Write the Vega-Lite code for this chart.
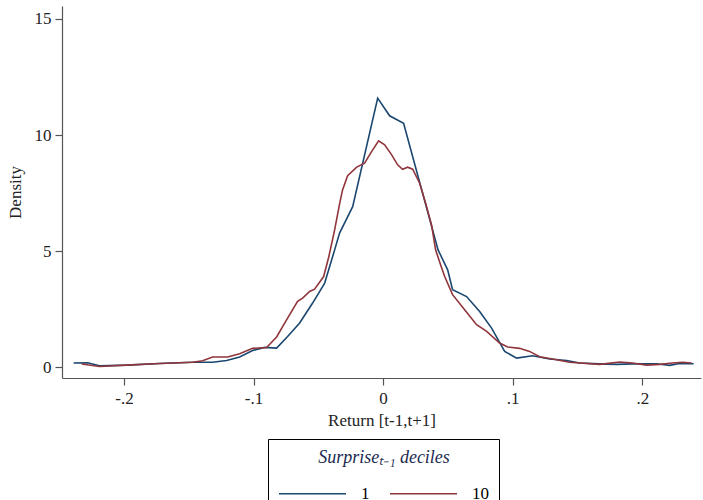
{
  "$schema": "https://vega.github.io/schema/vega-lite/v6.json",
  "width": 639,
  "height": 372,
  "autosize": {"type": "none"},
  "padding": {"left": 62, "top": 6, "right": 2, "bottom": 122},
  "background": "white",
  "config": {
    "font": "Liberation Serif",
    "view": {"stroke": null},
    "axis": {"grid": false, "domainColor": "#555", "tickColor": "#555", "labelColor": "#222", "titleColor": "#222", "labelFont": "Liberation Serif", "titleFont": "Liberation Serif", "labelFontSize": 17, "titleFontSize": 17, "titleFontWeight": "normal", "tickSize": 7, "domainWidth": 1.2, "tickWidth": 1.2}
  },
  "data": {
    "values": [
      {"x": -0.2388, "y": 0.19, "decile": "1"},
      {"x": -0.2280, "y": 0.20, "decile": "1"},
      {"x": -0.2188, "y": 0.07, "decile": "1"},
      {"x": -0.1979, "y": 0.10, "decile": "1"},
      {"x": -0.1725, "y": 0.17, "decile": "1"},
      {"x": -0.1470, "y": 0.22, "decile": "1"},
      {"x": -0.1316, "y": 0.22, "decile": "1"},
      {"x": -0.1208, "y": 0.30, "decile": "1"},
      {"x": -0.1107, "y": 0.45, "decile": "1"},
      {"x": -0.1007, "y": 0.73, "decile": "1"},
      {"x": -0.0914, "y": 0.86, "decile": "1"},
      {"x": -0.0822, "y": 0.83, "decile": "1"},
      {"x": -0.0737, "y": 1.33, "decile": "1"},
      {"x": -0.0644, "y": 1.91, "decile": "1"},
      {"x": -0.0544, "y": 2.77, "decile": "1"},
      {"x": -0.0451, "y": 3.63, "decile": "1"},
      {"x": -0.0374, "y": 5.06, "decile": "1"},
      {"x": -0.0336, "y": 5.78, "decile": "1"},
      {"x": -0.0235, "y": 6.92, "decile": "1"},
      {"x": -0.0042, "y": 11.59, "decile": "1"},
      {"x": 0.0050, "y": 10.83, "decile": "1"},
      {"x": 0.0158, "y": 10.51, "decile": "1"},
      {"x": 0.0424, "y": 5.06, "decile": "1"},
      {"x": 0.0498, "y": 4.20, "decile": "1"},
      {"x": 0.0536, "y": 3.34, "decile": "1"},
      {"x": 0.0644, "y": 3.05, "decile": "1"},
      {"x": 0.0745, "y": 2.41, "decile": "1"},
      {"x": 0.0837, "y": 1.69, "decile": "1"},
      {"x": 0.0938, "y": 0.69, "decile": "1"},
      {"x": 0.1030, "y": 0.40, "decile": "1"},
      {"x": 0.1154, "y": 0.50, "decile": "1"},
      {"x": 0.1285, "y": 0.36, "decile": "1"},
      {"x": 0.1416, "y": 0.30, "decile": "1"},
      {"x": 0.1516, "y": 0.19, "decile": "1"},
      {"x": 0.1671, "y": 0.15, "decile": "1"},
      {"x": 0.1802, "y": 0.13, "decile": "1"},
      {"x": 0.1925, "y": 0.15, "decile": "1"},
      {"x": 0.2110, "y": 0.16, "decile": "1"},
      {"x": 0.2211, "y": 0.09, "decile": "1"},
      {"x": 0.2288, "y": 0.17, "decile": "1"},
      {"x": 0.2396, "y": 0.16, "decile": "1"},
      {"x": -0.2326, "y": 0.15, "decile": "10"},
      {"x": -0.2188, "y": 0.04, "decile": "10"},
      {"x": -0.1979, "y": 0.10, "decile": "10"},
      {"x": -0.1725, "y": 0.17, "decile": "10"},
      {"x": -0.1470, "y": 0.22, "decile": "10"},
      {"x": -0.1393, "y": 0.29, "decile": "10"},
      {"x": -0.1316, "y": 0.45, "decile": "10"},
      {"x": -0.1200, "y": 0.45, "decile": "10"},
      {"x": -0.1107, "y": 0.59, "decile": "10"},
      {"x": -0.1007, "y": 0.82, "decile": "10"},
      {"x": -0.0899, "y": 0.86, "decile": "10"},
      {"x": -0.0822, "y": 1.31, "decile": "10"},
      {"x": -0.0745, "y": 2.05, "decile": "10"},
      {"x": -0.0660, "y": 2.84, "decile": "10"},
      {"x": -0.0621, "y": 2.98, "decile": "10"},
      {"x": -0.0567, "y": 3.27, "decile": "10"},
      {"x": -0.0529, "y": 3.37, "decile": "10"},
      {"x": -0.0459, "y": 3.91, "decile": "10"},
      {"x": -0.0421, "y": 4.72, "decile": "10"},
      {"x": -0.0374, "y": 5.92, "decile": "10"},
      {"x": -0.0336, "y": 7.04, "decile": "10"},
      {"x": -0.0313, "y": 7.64, "decile": "10"},
      {"x": -0.0274, "y": 8.25, "decile": "10"},
      {"x": -0.0204, "y": 8.62, "decile": "10"},
      {"x": -0.0143, "y": 8.79, "decile": "10"},
      {"x": -0.0089, "y": 9.29, "decile": "10"},
      {"x": -0.0035, "y": 9.75, "decile": "10"},
      {"x": 0.0012, "y": 9.58, "decile": "10"},
      {"x": 0.0066, "y": 9.15, "decile": "10"},
      {"x": 0.0112, "y": 8.72, "decile": "10"},
      {"x": 0.0150, "y": 8.53, "decile": "10"},
      {"x": 0.0189, "y": 8.62, "decile": "10"},
      {"x": 0.0228, "y": 8.53, "decile": "10"},
      {"x": 0.0282, "y": 7.93, "decile": "10"},
      {"x": 0.0328, "y": 7.07, "decile": "10"},
      {"x": 0.0374, "y": 6.12, "decile": "10"},
      {"x": 0.0405, "y": 5.06, "decile": "10"},
      {"x": 0.0444, "y": 4.41, "decile": "10"},
      {"x": 0.0475, "y": 3.91, "decile": "10"},
      {"x": 0.0536, "y": 3.13, "decile": "10"},
      {"x": 0.0629, "y": 2.48, "decile": "10"},
      {"x": 0.0721, "y": 1.84, "decile": "10"},
      {"x": 0.0799, "y": 1.55, "decile": "10"},
      {"x": 0.0899, "y": 1.05, "decile": "10"},
      {"x": 0.0961, "y": 0.88, "decile": "10"},
      {"x": 0.1053, "y": 0.82, "decile": "10"},
      {"x": 0.1130, "y": 0.69, "decile": "10"},
      {"x": 0.1208, "y": 0.46, "decile": "10"},
      {"x": 0.1308, "y": 0.36, "decile": "10"},
      {"x": 0.1439, "y": 0.22, "decile": "10"},
      {"x": 0.1671, "y": 0.13, "decile": "10"},
      {"x": 0.1825, "y": 0.23, "decile": "10"},
      {"x": 0.1925, "y": 0.19, "decile": "10"},
      {"x": 0.2033, "y": 0.10, "decile": "10"},
      {"x": 0.2133, "y": 0.13, "decile": "10"},
      {"x": 0.2234, "y": 0.19, "decile": "10"},
      {"x": 0.2311, "y": 0.22, "decile": "10"},
      {"x": 0.2380, "y": 0.19, "decile": "10"}
    ]
  },
  "mark": {"type": "line", "strokeWidth": 1.6, "interpolate": "linear"},
  "encoding": {
    "x": {
      "field": "x", "type": "quantitative",
      "scale": {"domain": [-0.2478, 0.2453], "nice": false, "zero": false},
      "axis": {"values": [-0.2, -0.1, 0, 0.1, 0.2], "title": "Return [t-1,t+1]", "labelExpr": "datum.value == 0 ? '0' : (datum.value < 0 ? '-' : '') + replace(format(abs(datum.value), '.1f'), '0.', '.')", "labelPadding": 5, "titlePadding": 6}
    },
    "y": {
      "field": "y", "type": "quantitative",
      "scale": {"domain": [-0.456, 15.557], "nice": false, "zero": false},
      "axis": {"values": [0, 5, 10, 15], "title": "Density", "labelPadding": 4, "titlePadding": 10}
    },
    "color": {
      "field": "decile", "type": "nominal",
      "scale": {"domain": ["1", "10"], "range": ["#1a476f", "#90353b"]},
      "legend": {
        "title": "Surpriseₜ₋₁ deciles",
        "orient": "none", "legendX": 206, "legendY": 433,
        "direction": "horizontal", "columns": 2,
        "strokeColor": "#000", "padding": 10,
        "titleFont": "Liberation Serif", "titleFontSize": 18, "titleFontWeight": "normal", "titleFontStyle": "italic", "titleColor": "#1c2a4f", "titleAnchor": "middle", "titlePadding": -8,
        "labelFont": "Liberation Serif", "labelFontSize": 17, "labelColor": "#000", "labelOffset": 14,
        "symbolType": "stroke", "symbolSize": 4489, "symbolStrokeWidth": 1.6,
        "columnPadding": 16
      }
    }
  }
}
